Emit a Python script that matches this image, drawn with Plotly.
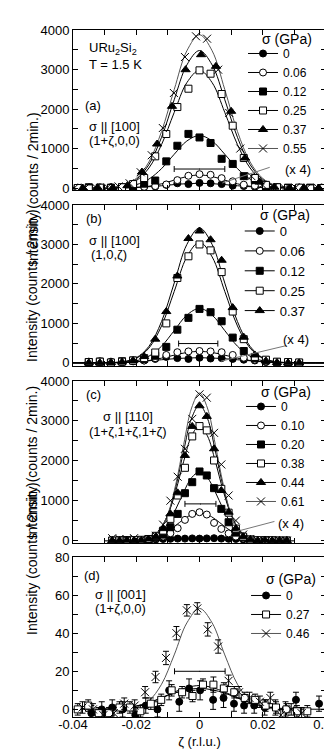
import plotly.graph_objects as go

# ---------------- data ----------------
# panel (a)  sigma || [100], (1+z,0,0)
za = [-0.0385, -0.035, -0.0315, -0.028, -0.0245, -0.021, -0.0175, -0.014, -0.0105, -0.007, -0.0035, 0.0,
      0.0035, 0.007, 0.0105, 0.014, 0.0175, 0.021, 0.0245, 0.028, 0.0315, 0.035, 0.0385]
a_000 = [0, 10, -10, 20, 0, 10, 30, 40, 80, 120, 100, 130, 120, 100, 60, 50, 30, 0, 10, -20, 10, -10, -30]
a_006 = [10, 0, 20, 0, 10, 20, 30, 50, 90, 200, 310, 350, 335, 250, 170, 85, 60, 20, 10, 0, 10, 0, 10]
a_012 = [0, 20, 0, 10, 20, 40, 110, 190, 675, 1070, 1370, 1280, 1140, 740, 610, 300, 200, 40, 20, 10, 0, 10, 0]
a_025 = [0, -10, 10, 0, 20, 100, 253, 802, 1367, 2050, 2514, 2979, 2894, 2380, 1578, 759, 253, 80, 20, 0, 10, -10, 0]
za_tri = [-0.0369, -0.0322, -0.0275, -0.0228, -0.0182, -0.0134, -0.0087, -0.0044, 0.0005, 0.0052, 0.01,
          0.0144, 0.019, 0.0237, 0.0284, 0.033, 0.0377]
a_037 = [0, 10, 0, 60, 405, 1114, 2068, 2995, 3375, 3080, 1942, 759, 150, 20, 0, 10, 0]
za_x = [-0.0396, -0.0361, -0.0326, -0.0291, -0.0256, -0.0221, -0.0186, -0.0151, -0.0116, -0.0081, -0.0046,
        -0.0011, 0.0024, 0.0059, 0.0094, 0.0129, 0.0164, 0.0199, 0.0234, 0.0269, 0.0304, 0.0339, 0.0374]
a_055 = [0, 10, 0, 20, 40, 120, 400, 830, 1519, 2405, 3316, 3840, 3780, 2995, 1900, 1000, 300, 80, 20, 0, 10, 0, 10]

# panel (b)  sigma || [100], (1,0,z)
zb = [-0.035, -0.0315, -0.028, -0.0245, -0.021, -0.0175, -0.014, -0.0105, -0.007, -0.0035, 0.0, 0.0035,
      0.007, 0.0105, 0.014, 0.0175, 0.021, 0.0245, 0.028, 0.0315]
b_000 = [-50, 20, 30, 10, 40, 60, 100, 150, 120, 100, 130, 110, 120, 100, 80, 60, 20, 0, 10, 0]
b_006 = [30, 40, 20, 30, 40, 60, 120, 200, 270, 290, 300, 290, 270, 200, 130, 80, 30, 20, 10, 0]
b_012 = [20, 30, 0, 40, 60, 100, 180, 405, 840, 1140, 1367, 1283, 1055, 640, 300, 120, 60, 20, 10, 0]
b_025 = [20, 30, 10, 30, 60, 120, 262, 1000, 2150, 2700, 3000, 2850, 2300, 1300, 600, 150, 80, 30, 20, 10]
b_037 = [0, 0, 10, 20, 60, 160, 600, 1300, 2200, 3150, 3340, 3120, 2600, 1400, 650, 200, 50, 10, 0, 0]

# panel (c)  sigma || [110], (1+z,1+z,1+z)
zc = [-0.0276, -0.0253, -0.023, -0.0207, -0.0184, -0.0161, -0.0138, -0.0115, -0.0092, -0.0069, -0.0046,
      -0.0023, 0.0, 0.0023, 0.0046, 0.0069, 0.0092, 0.0115, 0.0138, 0.0161, 0.0184, 0.0207, 0.023, 0.0253, 0.0276]
c_000 = [0, 0, 0, 10, 0, 10, 30, 40, 45, 50, 50, 55, 50, 55, 60, 50, 45, 40, 30, 10, 0, 0, 0, 0, 0]
c_010 = [0, 0, 10, 0, 10, 20, 60, 100, 184, 310, 519, 669, 711, 653, 444, 293, 180, 100, 50, 20, 10, 0, 0, 0, 0]
c_020 = [0, 0, 10, 0, 10, 30, 80, 150, 335, 669, 1188, 1464, 1732, 1632, 1314, 795, 460, 200, 80, 20, 0, 10, 0, 0, 0]
c_038 = [0, 10, 0, 10, 20, 40, 120, 250, 544, 1130, 1824, 2611, 2870, 2762, 2008, 1297, 700, 300, 100, 30, 10, 0, 10, 0, 0]
c_044 = [0, 0, 10, 0, 10, 40, 100, 300, 670, 1197, 2134, 2862, 3380, 3113, 2301, 1255, 711, 300, 100, 30, 0, 10, 0, 0, 0]
c_061 = [60, 40, 30, 60, 20, 40, 120, 400, 1000, 1600, 2300, 3050, 3665, 3582, 2700, 1908, 1130, 502, 150, 40, 0, -50, 10, 0, 0]

# panel (d)  sigma || [001], (1+z,0,0)
zd_x = [-0.037, -0.0337, -0.0304, -0.0271, -0.0238, -0.0205, -0.0172, -0.0139, -0.0106, -0.0073, -0.004,
        -0.0007, 0.0026, 0.0059, 0.0092, 0.0125, 0.0158, 0.0191, 0.0224, 0.0257, 0.029, 0.0323]
d_046 = [1, 0, -3, -2, 3, 2, 9, 17, 27, 40, 52, 53, 42, 33, 15, 9, 6, 4, 6, -3, 0, -2]
d_046_err = [3, 3, 3, 3, 3, 3, 3, 3, 3.5, 3.5, 3, 3, 3.5, 3.5, 3, 3, 3, 3, 3, 3, 3, 3]
zd_sq = [-0.0385, -0.0352, -0.0319, -0.0286, -0.0253, -0.022, -0.0187, -0.0154, -0.0121, -0.0088, -0.0055,
         -0.0022, 0.0011, 0.0044, 0.0077, 0.011, 0.0143, 0.0176, 0.0209, 0.0242, 0.0275, 0.0308, 0.0341]
d_027 = [0, 2, -2, -2, 1, 1, -1, 3, 5, 10, 9, 7, 13, 13, 11, 9, 6, 5, 2, 1, 0, -1, -1]
d_027_err = [3, 3, 3, 3, 3, 3, 3, 3, 3, 3, 3, 3, 3, 4, 3, 3, 3, 3, 3, 3, 3, 3, 3]
zd_c = [-0.0342, -0.0309, -0.0276, -0.0243, -0.0203, -0.017, -0.0133, -0.0096, -0.0064, -0.0033, 0.0002,
        0.0043, 0.0076, 0.0109, 0.0141, 0.0173, 0.0206, 0.024, 0.0272, 0.0305, 0.0378]
d_000 = [-2, 0, 1, 0, -3, 2, 0, 10, 4, 11, 10, 5, 6, 3, 2, 2, 1, 1, 0, 5, 3]
d_000_err = [4, 4, 4, 4, 4, 4, 4, 5, 5, 5, 5, 5, 5, 4, 4, 4, 4, 4, 4, 4, 4]

# fitted curves
cz = [-0.04, -0.03, -0.024, -0.02, -0.016, -0.012, -0.008, -0.004, 0.0, 0.004, 0.008, 0.012, 0.016, 0.02,
      0.024, 0.03, 0.04]
fa_055 = [0, 8, 72, 244, 660, 1432, 2491, 3473, 3880, 3473, 2491, 1432, 660, 244, 72, 8, 0]
fa_037 = [0, 7, 64, 219, 592, 1284, 2234, 3115, 3480, 3115, 2234, 1284, 592, 219, 64, 7, 0]
fa_025 = [0, 6, 55, 187, 507, 1100, 1913, 2667, 2980, 2667, 1913, 1100, 507, 187, 55, 6, 0]
fa_012 = [0, 3, 25, 84, 226, 491, 854, 1190, 1330, 1190, 854, 491, 226, 84, 25, 3, 0]
fa_006 = [0, 0, 4, 15, 45, 107, 200, 291, 330, 291, 200, 107, 45, 15, 4, 0, 0]
fa_000 = [0, 1, 7, 16, 33, 58, 87, 111, 120, 111, 87, 58, 33, 16, 7, 1, 0]

fb_037 = [0, 2, 30, 128, 417, 1047, 2021, 2999, 3420, 2999, 2021, 1047, 417, 128, 30, 2, 0]
fb_025 = [0, 2, 27, 114, 373, 936, 1808, 2684, 3060, 2684, 1808, 936, 373, 114, 27, 2, 0]
fb_012 = [0, 1, 12, 52, 168, 422, 816, 1210, 1380, 1210, 816, 422, 168, 52, 12, 1, 0]
fb_006 = [0, 1, 8, 25, 60, 119, 195, 263, 290, 263, 195, 119, 60, 25, 8, 1, 0]
fb_000 = [1, 6, 18, 32, 53, 79, 104, 123, 130, 123, 104, 79, 53, 32, 18, 6, 1]

cc = [-0.03, -0.02, -0.016, -0.013, -0.01, -0.0075, -0.005, -0.0025, 0.0, 0.0025, 0.005, 0.0075, 0.01, 0.013,
      0.016, 0.02, 0.03]
fc_061 = [0, 4, 46, 204, 666, 1410, 2409, 3323, 3700, 3323, 2409, 1410, 666, 204, 46, 4, 0]
fc_044 = [0, 4, 49, 207, 649, 1343, 2251, 3067, 3400, 3067, 2251, 1343, 649, 207, 49, 4, 0]
fc_038 = [0, 7, 64, 233, 651, 1247, 1987, 2624, 2880, 2624, 1987, 1247, 651, 233, 64, 7, 0]
fc_020 = [0, 7, 49, 165, 428, 788, 1216, 1577, 1720, 1577, 1216, 788, 428, 165, 49, 7, 0]
fc_010 = [0, 9, 44, 113, 237, 381, 534, 655, 700, 655, 534, 381, 237, 113, 44, 9, 0]
fc_000 = [1, 7, 14, 22, 30, 38, 44, 48, 50, 48, 44, 38, 30, 22, 14, 7, 1]

fd_046 = [0, 0, 0.2, 1.1, 4.5, 13.2, 28.6, 45.4, 53, 45.4, 28.6, 13.2, 4.5, 1.1, 0.2, 0, 0]
fd_027 = [0, 0.1, 0.7, 1.7, 3.5, 6.1, 9.1, 11.5, 12.5, 11.5, 9.1, 6.1, 3.5, 1.7, 0.7, 0.1, 0]
fd_000 = [0, 0.2, 0.8, 1.8, 3.5, 6, 8.5, 10.3, 11, 10.3, 8.5, 6, 3.5, 1.8, 0.8, 0.2, 0]

# resolution bars (centre, half width, height)
res_c = [0.0, -0.0004, 0.0003, 0.0001]
res_hw = [0.008, 0.0062, 0.0049, 0.008]
res_y = [481, 489, 920, 20]

# "(x 4)" pointer lines: from (x0, y0) to (x1, y1) and label position
x4_line = [(0.0222, 524, 0.0072, 127), (0.0275, 438, 0.0068, 43), (0.0237, 480, 0.0120, 235)]
x4_text = [(0.031, 480), (0.0305, 590), (0.0289, 440)]

FONT = "Liberation Sans, Arial, sans-serif"
BLACK = "#000"
GREY = "#555"

STYLE = {
    "fill_circle": dict(symbol="circle", size=7, color=BLACK, line=dict(color=BLACK, width=1)),
    "open_circle": dict(symbol="circle", size=7, color="white", line=dict(color=BLACK, width=1)),
    "fill_square": dict(symbol="square", size=7, color=BLACK, line=dict(color=BLACK, width=1)),
    "open_square": dict(symbol="square", size=7, color="white", line=dict(color=BLACK, width=1)),
    "fill_tri": dict(symbol="triangle-up", size=8, color=BLACK, line=dict(color=BLACK, width=1)),
    "cross": dict(symbol="x-thin-open", size=8, color=BLACK, line=dict(color=BLACK, width=1)),
}

fig = go.Figure()

domains = [[0.7671, 1.0], [0.5109, 0.7453], [0.2533, 0.4891], [0.0, 0.2329]]
yranges = [[-50, 4000], [-80, 4000], [-60, 4000], [-4, 80]]

panels = [
    dict(curve_x=cz,
         curves=[fa_000, fa_006, fa_012, fa_025, fa_037, fa_055],
         series=[("0", za, a_000, "fill_circle"), ("0.06", za, a_006, "open_circle"),
                 ("0.12", za, a_012, "fill_square"), ("0.25", za, a_025, "open_square"),
                 ("0.37", za_tri, a_037, "fill_tri"), ("0.55", za_x, a_055, "cross")]),
    dict(curve_x=cz,
         curves=[fb_000, fb_006, fb_012, fb_025, fb_037],
         series=[("0", zb, b_000, "fill_circle"), ("0.06", zb, b_006, "open_circle"),
                 ("0.12", zb, b_012, "fill_square"), ("0.25", zb, b_025, "open_square"),
                 ("0.37", zb, b_037, "fill_tri")]),
    dict(curve_x=cc,
         curves=[fc_000, fc_010, fc_020, fc_038, fc_044, fc_061],
         series=[("0", zc, c_000, "fill_circle"), ("0.10", zc, c_010, "open_circle"),
                 ("0.20", zc, c_020, "fill_square"), ("0.38", zc, c_038, "open_square"),
                 ("0.44", zc, c_044, "fill_tri"), ("0.61", zc, c_061, "cross")]),
    dict(curve_x=cz,
         curves=[fd_000, fd_027, fd_046],
         series=[("0", zd_c, d_000, "fill_circle", d_000_err), ("0.27", zd_sq, d_027, "open_square", d_027_err),
                 ("0.46", zd_x, d_046, "cross", d_046_err)]),
]

for i, p in enumerate(panels):
    n = "" if i == 0 else str(i + 1)
    xa, ya, lg = "x" + n, "y" + n, "legend" + n
    for k, cy in enumerate(p["curves"]):
        col = GREY if (k == len(p["curves"]) - 1 and i != 1) else BLACK
        fig.add_trace(go.Scatter(x=p["curve_x"], y=cy, mode="lines", line=dict(color=col, width=1, shape="spline"),
                                 showlegend=False, hoverinfo="skip", xaxis=xa, yaxis=ya))
    # resolution bar
    fig.add_trace(go.Scatter(x=[res_c[i]], y=[res_y[i]], mode="markers", marker=dict(size=1, color=BLACK),
                             error_x=dict(type="data", array=[res_hw[i]], color=BLACK, thickness=1, width=3),
                             showlegend=False, hoverinfo="skip", xaxis=xa, yaxis=ya))
    for k, s in enumerate(p["series"]):
        name, xs, ys, st = s[0], s[1], s[2], s[3]
        err = dict(type="data", array=s[4], color=BLACK, thickness=1, width=3) if len(s) > 4 else None
        fig.add_trace(go.Scatter(x=xs, y=ys, mode="markers", marker=STYLE[st], error_y=err,
                                 showlegend=False, xaxis=xa, yaxis=ya, name=name))
        # legend entry: line + marker sample
        col = GREY if (k == len(p["series"]) - 1 and i != 1) else BLACK
        fig.add_trace(go.Scatter(x=[None], y=[None], mode="lines+markers", name=name, marker=STYLE[st],
                                 line=dict(color=col, width=1), legend=lg, xaxis=xa, yaxis=ya))

axis_common = dict(showline=True, linecolor=BLACK, linewidth=1, mirror="allticks", ticks="inside",
                   ticklen=5, tickcolor=BLACK, showgrid=False, zeroline=False, automargin=False,
                   ticklabeloverflow="allow", tickfont=dict(family=FONT, size=13, color=BLACK))

layout = dict(width=332, height=755, margin=dict(l=65, r=14, t=22, b=46, autoexpand=False),
              paper_bgcolor="white", plot_bgcolor="white", font=dict(family=FONT, size=13, color=BLACK))
legend_x = [0.672, 0.659, 0.664, 0.684]
legend_y = [0.9869, 0.7292, 0.4731, 0.198]
legend_fs = [12, 13, 12, 12]
for i in range(4):
    n = "" if i == 0 else str(i + 1)
    major = 20 if i == 3 else 1000
    layout["xaxis" + n] = dict(axis_common, domain=[0, 1], range=[-0.04, 0.04], anchor="y" + n,
                               tickmode="array", tickvals=[-0.04, -0.02, 0, 0.02, 0.04],
                               ticktext=["-0.04", "-0.02", "0", "0.02", "0.04"], tickangle=0,
                               minor=dict(dtick=0.01, tick0=0, ticks="inside", ticklen=5, tickcolor=BLACK),
                               showticklabels=(i == 3))
    layout["yaxis" + n] = dict(axis_common, domain=domains[i], range=yranges[i], anchor="x" + n,
                               dtick=major, minor=dict(dtick=major / 2, ticks="inside", ticklen=5, tickcolor=BLACK))
    layout["legend" + n] = dict(x=legend_x[i], xanchor="left", y=legend_y[i], yanchor="top",
                                bgcolor="rgba(0,0,0,0)", font=dict(family=FONT, size=legend_fs[i], color=BLACK),
                                itemwidth=30, tracegroupgap=0)
layout["xaxis4"]["title"] = dict(text="ζ (r.l.u.)", font=dict(family=FONT, size=13), standoff=6)
layout["xaxis4"]["ticklabelstandoff"] = -5
fig.update_layout(**layout)

# text labels
ann = []
for i in range(4):
    yc = (domains[i][0] + domains[i][1]) / 2
    ann.append(dict(text="Intensity (counts / 2min.)", xref="paper", yref="paper", x=-0.2, y=yc,
                    textangle=-90, showarrow=False, font=dict(size=14)))


def px(x):
    return (x - 65) / 253


def py(y):
    return (709 - y) / 687


labels = [
    ("URu<sub>2</sub>Si<sub>2</sub>", 79, 41, "left"), ("T = 1.5 K", 79, 56, "left"), ("(a)", 75, 97, "left"),
    ("σ || [100]", 106.7, 118, "center"), ("(1+ζ,0,0)", 106, 132, "center"),
    ("(b)", 76, 210, "left"), ("σ || [100]", 106.7, 232.7, "center"), ("(1,0,ζ)", 101, 246.7, "center"),
    ("(c)", 76, 386.7, "left"), ("σ || [110]", 120, 408.5, "center"), ("(1+ζ,1+ζ,1+ζ)", 120, 423.5, "center"),
    ("(d)", 74, 567.7, "left"), ("σ || [001]", 112.5, 586.7, "center"), ("(1+ζ,0,0)", 112.5, 600, "center"),
]
for t, x, y, anc in labels:
    ann.append(dict(text=t, xref="paper", yref="paper", x=px(x), y=py(y), xanchor=anc, yanchor="middle",
                    showarrow=False, font=dict(size=13)))

# legend headings
for x, y in [(279, 30.5), (276.7, 207), (278, 383.5), (283, 570.5)]:
    ann.append(dict(text="σ (GPa)", xref="paper", yref="paper", x=px(x), y=py(y), xanchor="center",
                    yanchor="middle", showarrow=False, font=dict(size=14)))

shapes = []
for i in range(3):
    n = "" if i == 0 else str(i + 1)
    x0, y0, x1, y1 = x4_line[i]
    shapes.append(dict(type="line", xref="x" + n, yref="y" + n, x0=x0, y0=y0, x1=x1, y1=y1,
                       line=dict(color="#777", width=1)))
    ann.append(dict(x=x4_text[i][0], y=x4_text[i][1], xref="x" + n, yref="y" + n, text="(x 4)",
                    showarrow=False, font=dict(size=13)))
fig.update_layout(annotations=ann, shapes=shapes)

fig.write_html("out.html")
